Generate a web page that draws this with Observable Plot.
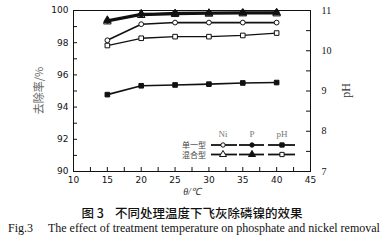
<!DOCTYPE html>
<html>
<head>
<meta charset="utf-8">
<script src="https://cdn.jsdelivr.net/npm/d3@7"></script>
<script src="https://cdn.jsdelivr.net/npm/@observablehq/plot@0.6"></script>
<style>
  html, body { margin: 0; padding: 0; background: #fff; }
  #wrap { position: relative; width: 388px; height: 240px; overflow: hidden; }
  #chart svg { display: block; }
  .cap { position: absolute; left: 0; width: 388px; text-align: center; white-space: pre; color: #111; }
  #capZh { top: 205px; height: 15px; line-height: 15px; font-family: "Noto Sans CJK SC", sans-serif; font-size: 12.5px; font-weight: 500; left: -2px; }
  #capEn { top: 220.5px; height: 14px; line-height: 14px; font-family: "Liberation Serif", serif; font-size: 12px; }
</style>
</head>
<body>
<div id="wrap">
  <div id="chart"></div>
  <div class="cap" id="capZh"></div>
  <div class="cap" id="capEn"></div>
</div>
<script>
// ---- data ----
const temps = [15, 20, 25, 30, 35, 40];
const niSingle = [98.15, 99.15, 99.25, 99.25, 99.25, 99.25];
const pSingle  = [99.35, 99.75, 99.86, 99.88, 99.9, 99.9];
const niMixed  = [99.3, 99.7, 99.76, 99.78, 99.8, 99.8];
const pMixed   = [99.4, 99.8, 99.82, 99.84, 99.85, 99.87];
const phSingle = [8.91, 9.13, 9.15, 9.17, 9.2, 9.21];
const phMixed  = [10.13, 10.31, 10.35, 10.35, 10.38, 10.44];

const xTicks = [10, 15, 20, 25, 30, 35, 40, 45];
const yTicks = [90, 92, 94, 96, 98, 100];
const phTicks = [7, 8, 9, 10, 11];
const yLabel = "去除率/%";
const phLabel = "pH";
const xLabel = "θ/℃";
const legendCols = ["Ni", "P", "pH"];
const legendRows = ["单一型", "混合型"];
const captionZh = "图 3    不同处理温度下飞灰除磷镍的效果";
const captionEn = "Fig.3     The effect of treatment temperature on phosphate and nickel removal";

// map pH (right axis 7..11) onto left scale (90..100)
const phToY = p => 90 + (p - 7) * 2.5;
const yToPh = v => (v - 90) / 2.5 + 7;

const rows = (vals, f = d => d) => temps.map((t, i) => ({x: t, y: f(vals[i])}));

const W = 388, H = 203, mL = 73, mR = 78, mT = 10, mB = 32;
const fw = W - mL - mR, fh = H - mT - mB;
const sans = "DejaVu Sans, sans-serif";
const serif = "Liberation Serif, serif";

function series(data, symbol, fill, r, sw = 1.6) {
  return [
    Plot.line(data, {x: "x", y: "y", stroke: "#111", strokeWidth: sw}),
    Plot.dot(data, {x: "x", y: "y", symbol, fill, stroke: "#111", strokeWidth: 1, r})
  ];
}

const plot = Plot.plot({
  width: W, height: H,
  marginLeft: mL, marginRight: mR, marginTop: mT, marginBottom: mB,
  x: {domain: [10, 45]},
  y: {domain: [90, 100]},
  style: {background: "#fff", color: "#111"},
  marks: [
    Plot.axisY(yTicks, {anchor: "left", tickSize: 0, tickPadding: 5, fontSize: 9, fontFamily: sans, label: null}),
    Plot.tickY(d3.range(90, 101, 1), {y: d => d, stroke: "#111", insetRight: fw - 4}),
    Plot.axisY(phTicks.map(phToY), {anchor: "right", tickSize: 0, tickPadding: 11, fontSize: 10, fontFamily: serif, tickFormat: v => String(Math.round(yToPh(v))), label: null}),
    Plot.tickY(d3.range(7, 11.01, 0.5).map(phToY), {y: d => d, stroke: "#111", insetLeft: fw - 4}),
    Plot.axisX(xTicks, {anchor: "bottom", tickSize: 0, tickPadding: 5, fontSize: 9, fontFamily: sans, label: null}),
    Plot.tickX(d3.range(10, 45.01, 2.5), {x: d => d, stroke: "#111", insetTop: fh - 4}),
    Plot.frame({stroke: "#111", strokeWidth: 1}),
    Plot.text([xLabel], {text: d => d, frameAnchor: "bottom", dy: 23, fontSize: 10, fill: "#333", fontFamily: serif, fontStyle: "italic"}),
    // data
    ...series(rows(phSingle, phToY), "square", "#111", 2.6, 1.6),
    ...series(rows(phMixed, phToY), "square", "#fff", 2.6, 1.3),
    ...series(rows(niSingle), "circle", "#fff", 2.4, 1.6),
    ...series(rows(niMixed), "triangle", "#fff", 2.8, 1.6),
    ...series(rows(pSingle), "circle", "#111", 2.4, 1.8),
    ...series(rows(pMixed), "triangle", "#111", 2.8, 1.8)
  ]
});

const svg = d3.select(plot);
// rotated axis titles
const cy = mT + fh / 2;
svg.append("text").attr("transform", `translate(${mL - 34},${cy}) rotate(-90)`)
  .attr("text-anchor", "middle").attr("dy", "0.35em")
  .attr("font-family", "Noto Sans CJK SC, sans-serif").attr("font-size", 11).attr("fill", "#666").text(yLabel);
svg.append("text").attr("transform", `translate(${W - mR + 36},${cy}) rotate(-90)`)
  .attr("text-anchor", "middle").attr("dy", "0.35em")
  .attr("font-family", serif).attr("font-size", 12).attr("fill", "#333").text(phLabel);

// ---- legend (inside the frame) ----
const lg = svg.append("g").attr("font-family", serif);
const colX = [223, 252, 282];
const segs = [[211, 237], [239, 264], [268, 295]];
const rowY = [145, 154.5];
legendCols.forEach((c, i) => {
  lg.append("text").attr("x", colX[i]).attr("y", 134).attr("dy", "0.32em")
    .attr("text-anchor", "middle").attr("font-size", 9).attr("fill", "#777").text(c);
});
const legendSymbols = [
  [["circle", "#fff"], ["circle", "#111"], ["square", "#111"]],
  [["triangle", "#fff"], ["triangle", "#111"], ["square", "#fff"]]
];
const symMap = {circle: d3.symbolCircle, square: d3.symbolSquare, triangle: d3.symbolTriangle};
const symSize = {circle: 2.2 * 2.2 * Math.PI, square: 2.4 * 2.4 * Math.PI, triangle: 2.6 * 2.6 * Math.PI};
legendRows.forEach((r, j) => {
  lg.append("text").attr("x", 206).attr("y", rowY[j]).attr("dy", "0.38em")
    .attr("text-anchor", "end").attr("font-size", 8).attr("fill", "#444")
    .attr("font-family", "Noto Sans CJK SC, serif").text(r);
  segs.forEach(([a, b], i) => {
    lg.append("line").attr("x1", a).attr("x2", b).attr("y1", rowY[j]).attr("y2", rowY[j])
      .attr("stroke", "#111").attr("stroke-width", 1.8);
    const [s, f] = legendSymbols[j][i];
    lg.append("path").attr("d", d3.symbol(symMap[s], symSize[s])())
      .attr("transform", `translate(${colX[i]},${rowY[j]})`)
      .attr("fill", f).attr("stroke", "#111").attr("stroke-width", 1);
  });
});

document.getElementById("chart").appendChild(plot);
document.getElementById("capZh").textContent = captionZh;
document.getElementById("capEn").textContent = captionEn;
</script>
</body>
</html>
